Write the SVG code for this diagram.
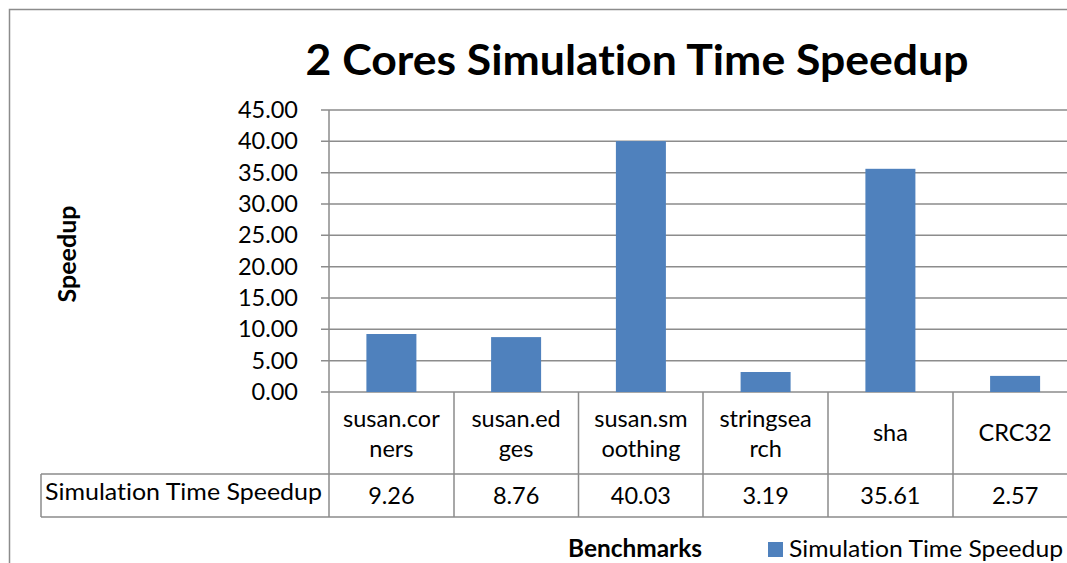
<svg xmlns="http://www.w3.org/2000/svg" width="1067" height="563" viewBox="0 0 1067 563">
<style>
.t{font-family:Lato,"Liberation Sans","DejaVu Sans",sans-serif;fill:#000;font-variant-ligatures:none;font-feature-settings:"liga" 0,"dlig" 0}
.lbl{font-size:23.5px}
.ax{font-size:23.5px;text-anchor:end}
.c{text-anchor:middle}
.b{font-weight:bold}
.grid{stroke:#8c8c8c;stroke-width:1.5;fill:none}
.bar{fill:#4f81bd}
</style>
<rect width="1067" height="563" fill="#fff"/>
<g id="frame"><path class="grid" d="M9.5,563 V9.5 H1067"/></g>
<g id="title"><text class="t b c" x="637" y="75" font-size="42" textLength="663" lengthAdjust="spacingAndGlyphs">2 Cores Simulation Time Speedup</text></g>
<g id="connectors">
<path class="grid" d="M321,110H1067M321,141.3H1067M321,172.7H1067M321,204H1067M321,235.3H1067M321,266.7H1067M321,298H1067M321,329.3H1067M321,360.7H1067M321,392H1067"/>
<path class="grid" d="M329,110V517M454,392V517M578.5,392V517M703,392V517M828,392V517M953,392V517M41,474V517M41,474H1067M41,517H1067"/>
</g>
<g id="yaxis">
<text class="t ax" x="298" y="118">45.00</text>
<text class="t ax" x="298" y="149.3">40.00</text>
<text class="t ax" x="298" y="180.7">35.00</text>
<text class="t ax" x="298" y="212">30.00</text>
<text class="t ax" x="298" y="243.3">25.00</text>
<text class="t ax" x="298" y="274.7">20.00</text>
<text class="t ax" x="298" y="306">15.00</text>
<text class="t ax" x="298" y="337.3">10.00</text>
<text class="t ax" x="298" y="368.7">5.00</text>
<text class="t ax" x="298" y="400">0.00</text>
</g>
<g id="ytitle"><text class="t b c" font-size="24" textLength="97" lengthAdjust="spacingAndGlyphs" transform="translate(76,254) rotate(-90)">Speedup</text></g>
<g id="bars">
<rect class="bar" x="366.4" y="334" width="50" height="58"/>
<rect class="bar" x="491.1" y="337.1" width="50" height="54.9"/>
<rect class="bar" x="615.9" y="141.1" width="50" height="250.9"/>
<rect class="bar" x="740.6" y="372" width="50" height="20"/>
<rect class="bar" x="865.4" y="168.8" width="50" height="223.2"/>
<rect class="bar" x="990.1" y="375.9" width="50" height="16.1"/>
</g>
<g id="categories">
<text class="t lbl c" x="391.4" y="427">susan.cor</text><text class="t lbl c" x="391.4" y="457">ners</text>
<text class="t lbl c" x="516.1" y="427">susan.ed</text><text class="t lbl c" x="516.1" y="457">ges</text>
<text class="t lbl c" x="640.9" y="427">susan.sm</text><text class="t lbl c" x="640.9" y="457">oothing</text>
<text class="t lbl c" x="765.6" y="427">stringsea</text><text class="t lbl c" x="765.6" y="457">rch</text>
<text class="t lbl c" x="890.4" y="441">sha</text>
<text class="t lbl c" x="1015.1" y="441">CRC32</text>
</g>
<g id="datarow">
<text class="t lbl" x="45" y="500" textLength="277" lengthAdjust="spacingAndGlyphs">Simulation Time Speedup</text>
<text class="t lbl c" x="391.4" y="504">9.26</text>
<text class="t lbl c" x="516.1" y="504">8.76</text>
<text class="t lbl c" x="640.9" y="504">40.03</text>
<text class="t lbl c" x="765.6" y="504">3.19</text>
<text class="t lbl c" x="890.4" y="504">35.61</text>
<text class="t lbl c" x="1015.1" y="504">2.57</text>
</g>
<g id="xtitle"><text class="t b c" x="635" y="557" font-size="24" textLength="134" lengthAdjust="spacingAndGlyphs">Benchmarks</text></g>
<g id="legend">
<rect class="bar" x="768" y="542" width="15" height="15"/>
<text class="t lbl" x="789" y="557" textLength="274" lengthAdjust="spacingAndGlyphs">Simulation Time Speedup</text>
</g>
</svg>
